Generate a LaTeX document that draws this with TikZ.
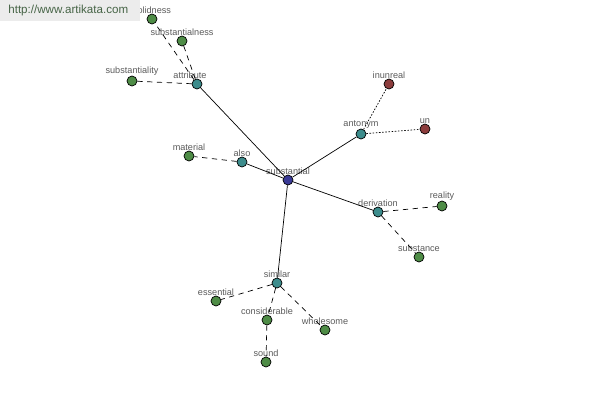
\documentclass[tikz,border=0pt]{standalone}
\usepackage{fontspec}
\setmainfont{Liberation Sans}
\usetikzlibrary{arrows.meta}
\definecolor{hub}{RGB}{58,58,150}
\definecolor{rel}{RGB}{60,140,140}
\definecolor{word}{RGB}{78,140,70}
\definecolor{anti}{RGB}{140,60,60}
\definecolor{lbltext}{RGB}{90,90,90}
\definecolor{mark}{RGB}{236,236,236}
\definecolor{marktext}{RGB}{70,100,70}
\tikzset{
  every picture/.style={line width=0.4pt},
  dot/.style={circle, draw=black, line width=0.4pt, inner sep=0pt, minimum size=2mm},
  hubdot/.style={dot, fill=hub},
  reldot/.style={dot, fill=rel},
  worddot/.style={dot, fill=word},
  antidot/.style={dot, fill=anti},
  lbl/.style={font=\fontsize{5.2}{6}\selectfont, text=lbltext, inner sep=0.5pt, label distance=-0.8pt},
  tie/.style={draw=black, line width=0.4pt},
  near/.style={draw=black, line width=0.4pt, dash pattern=on 3pt off 2.6pt},
  opp/.style={draw=black, line width=0.4pt, dash pattern=on 0.9pt off 0.9pt},
}
\begin{document}
\begin{tikzpicture}[x=0.02cm, y=-0.02cm]
  \useasboundingbox (0,0) rectangle (600,400);
  % centre word and its relations
  \node[hubdot, label={[lbl]above:substantial}] (sub) at (288,180) {};
  \node[reldot, label={[lbl, xshift=-4pt]above:attribute}] (attr) at (197,84) {};
  \node[reldot, label={[lbl]above:antonym}] (ant) at (361,134) {};
  \node[reldot, label={[lbl]above:also}] (also) at (242,162) {};
  \node[reldot, label={[lbl]above:derivation}] (der) at (378,212) {};
  \node[reldot, label={[lbl]above:similar}] (sim) at (277,283) {};
  % leaf words
  \node[worddot, label={[lbl]above:solidness}] (solid) at (152,19) {};
  \node[worddot, label={[lbl]above:substantialness}] (subness) at (182,41) {};
  \node[worddot, label={[lbl]above:substantiality}] (subity) at (132,81) {};
  \node[antidot, label={[lbl]above:inunreal}] (inun) at (389,84) {};
  \node[antidot, label={[lbl]above:un}] (un) at (425,129) {};
  \node[worddot, label={[lbl]above:material}] (mat) at (189,156) {};
  \node[worddot, label={[lbl]above:reality}] (real) at (442,206) {};
  \node[worddot, label={[lbl]above:substance}] (stance) at (419,257) {};
  \node[worddot, label={[lbl]above:essential}] (ess) at (216,301) {};
  \node[worddot, label={[lbl]above:considerable}] (cons) at (267,320) {};
  \node[worddot, label={[lbl]above:wholesome}] (whole) at (325,330) {};
  \node[worddot, label={[lbl]above:sound}] (sound) at (266,362) {};
  % connectors
  \draw[tie] (sub) -- (attr);
  \draw[tie] (sub) -- (ant);
  \draw[tie] (sub) -- (also);
  \draw[tie] (sub) -- (der);
  \draw[tie] (sub) -- (sim);
  \draw[near] (attr) -- (solid);
  \draw[near] (attr) -- (subness);
  \draw[near] (attr) -- (subity);
  \draw[opp] (ant) -- (inun);
  \draw[opp] (ant) -- (un);
  \draw[near] (also) -- (mat);
  \draw[near] (der) -- (real);
  \draw[near] (der) -- (stance);
  \draw[near] (sim) -- (ess);
  \draw[near] (sim) -- (cons);
  \draw[near] (sim) -- (whole);
  \draw[near] (cons) -- (sound);
  % site mark
  \node[fill=mark, anchor=north west, minimum width=2.8cm, minimum height=0.42cm, inner sep=0pt] (site) at (0,0) {};
  \node[font=\fontsize{6.6}{8}\selectfont, text=marktext, anchor=west, inner sep=0pt] (url) at (8,10) {http://www.artikata.com};
\end{tikzpicture}
\end{document}
